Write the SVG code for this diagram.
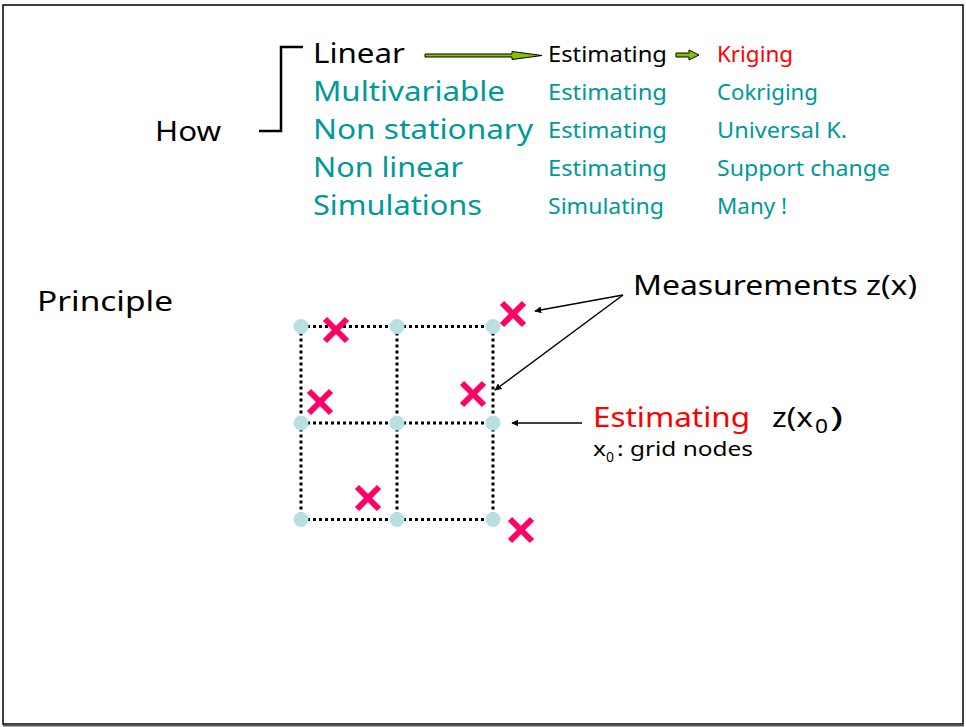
<svg xmlns="http://www.w3.org/2000/svg" width="966" height="727" viewBox="0 0 966 727">
<style>
text{font-family:"Noto Sans","DejaVu Sans",sans-serif}
.big{font-size:28px}
.mid{font-size:22px}
.blk{fill:#000}
.teal{fill:#009999}
.red{fill:#FF0000}
.grid{stroke:#000;stroke-width:3;stroke-dasharray:3 3;fill:none}
.node{fill:#B9DFE2}
.cross{stroke:#FF0066;stroke-width:6;stroke-linecap:butt}
.conn{stroke:#000;stroke-width:1.5;fill:none}
</style>
<defs>
<marker id="ah" viewBox="0 0 10 10" refX="9" refY="5" markerWidth="7" markerHeight="7" markerUnits="userSpaceOnUse" orient="auto">
<path d="M0,0 L10,5 L0,10 z" fill="#000"/>
</marker>
</defs>
<rect x="0" y="0" width="966" height="727" fill="#fff"/>
<rect x="3" y="5" width="960" height="719" fill="none" stroke="#000" stroke-width="1.5"/>
<line x1="3" y1="725.5" x2="964" y2="725.5" stroke="#555" stroke-width="2"/>

<g id="how">
<text class="big blk" x="155" y="141" textLength="66" lengthAdjust="spacingAndGlyphs">How</text>
<path d="M259,131 H281 V47 H303" fill="none" stroke="#000" stroke-width="2.5"/>
</g>

<g id="col1">
<text class="big blk" x="313" y="63" textLength="92" lengthAdjust="spacingAndGlyphs">Linear</text>
<text class="big teal" x="313" y="101" textLength="192" lengthAdjust="spacingAndGlyphs">Multivariable</text>
<text class="big teal" x="313" y="139" textLength="220" lengthAdjust="spacingAndGlyphs">Non stationary</text>
<text class="big teal" x="313" y="177" textLength="150" lengthAdjust="spacingAndGlyphs">Non linear</text>
<text class="big teal" x="313" y="215" textLength="169" lengthAdjust="spacingAndGlyphs">Simulations</text>
</g>

<g id="col2">
<text class="mid blk" x="548" y="62" textLength="119" lengthAdjust="spacingAndGlyphs">Estimating</text>
<text class="mid teal" x="548" y="100" textLength="119" lengthAdjust="spacingAndGlyphs">Estimating</text>
<text class="mid teal" x="548" y="138" textLength="119" lengthAdjust="spacingAndGlyphs">Estimating</text>
<text class="mid teal" x="548" y="176" textLength="119" lengthAdjust="spacingAndGlyphs">Estimating</text>
<text class="mid teal" x="548" y="214" textLength="116" lengthAdjust="spacingAndGlyphs">Simulating</text>
</g>

<g id="col3">
<text class="mid red" x="717" y="62" textLength="76" lengthAdjust="spacingAndGlyphs">Kriging</text>
<text class="mid teal" x="717" y="100" textLength="101" lengthAdjust="spacingAndGlyphs">Cokriging</text>
<text class="mid teal" x="717" y="138" textLength="130" lengthAdjust="spacingAndGlyphs">Universal K.</text>
<text class="mid teal" x="717" y="176" textLength="173" lengthAdjust="spacingAndGlyphs">Support change</text>
<text class="mid teal" x="717" y="214" textLength="70" lengthAdjust="spacingAndGlyphs">Many !</text>
</g>

<g id="arrows-top">
<path d="M425,54 H512 V51.5 L542,55.5 L512,59.5 V57 H425 Z" fill="#88C000" stroke="#000" stroke-width="1"/>
<path d="M676,53 H689 V50 L699,55 L689,60 V57 H676 Z" fill="#88C000" stroke="#000" stroke-width="1"/>
</g>

<g id="principle">
<text class="big blk" x="37" y="311" textLength="136" lengthAdjust="spacingAndGlyphs">Principle</text>
</g>

<g id="grid">
<path class="grid" d="M301,326.5 H493 M301,423 H493 M301,519.5 H493 M301,326.5 V519.5 M397,326.5 V519.5 M493,326.5 V519.5"/>
<circle class="node" cx="301" cy="326.5" r="7.5"/>
<circle class="node" cx="397" cy="326.5" r="7.5"/>
<circle class="node" cx="493" cy="326.5" r="7.5"/>
<circle class="node" cx="301" cy="423" r="7.5"/>
<circle class="node" cx="397" cy="423" r="7.5"/>
<circle class="node" cx="493" cy="423" r="7.5"/>
<circle class="node" cx="301" cy="519.5" r="7.5"/>
<circle class="node" cx="397" cy="519.5" r="7.5"/>
<circle class="node" cx="493" cy="519.5" r="7.5"/>
</g>

<g id="measurements">
<path class="cross" d="M325,319 L347,341 M347,319 L325,341"/>
<path class="cross" d="M309,391 L331,413 M331,391 L309,413"/>
<path class="cross" d="M462,383 L484,405 M484,383 L462,405"/>
<path class="cross" d="M357,487 L379,509 M379,487 L357,509"/>
<path class="cross" d="M502,303 L524,325 M524,303 L502,325"/>
<path class="cross" d="M510,519 L532,541 M532,519 L510,541"/>
</g>

<g id="labels">
<text class="big blk" x="633" y="295" textLength="284" lengthAdjust="spacingAndGlyphs">Measurements z(x)</text>
<text class="big red" x="593" y="427" textLength="157" lengthAdjust="spacingAndGlyphs">Estimating</text>
<text class="big blk" x="772" y="427" textLength="41" lengthAdjust="spacingAndGlyphs">z(x</text>
<text class="blk" style="font-size:19px" x="815" y="433" textLength="13" lengthAdjust="spacingAndGlyphs">0</text>
<text class="big blk" x="830" y="427" textLength="13" lengthAdjust="spacingAndGlyphs">)</text>
<text class="blk" style="font-size:20px" x="593" y="456" textLength="13" lengthAdjust="spacingAndGlyphs">x</text>
<text class="blk" style="font-size:14px" x="606" y="462" textLength="8" lengthAdjust="spacingAndGlyphs">0</text>
<text class="blk" style="font-size:20px" x="617" y="456" textLength="136" lengthAdjust="spacingAndGlyphs">: grid nodes</text>
</g>

<g id="connectors">
<line class="conn" x1="623" y1="295" x2="535" y2="311" marker-end="url(#ah)"/>
<line class="conn" x1="623" y1="295" x2="495" y2="390" marker-end="url(#ah)"/>
<line class="conn" x1="582" y1="423" x2="512" y2="423" marker-end="url(#ah)"/>
</g>
</svg>
